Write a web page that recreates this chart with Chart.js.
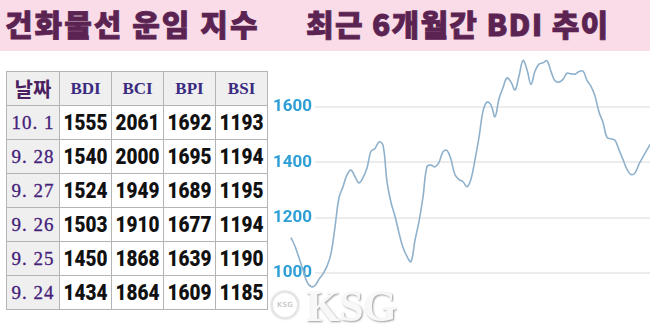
<!DOCTYPE html>
<html>
<head>
<meta charset="utf-8">
<script src="https://cdn.jsdelivr.net/npm/chart.js@4.4.1/dist/chart.umd.min.js"></script>
<style>
  body { margin: 0; width: 650px; height: 333px; overflow: hidden; background: #fff; position: relative; }
  .band { position: absolute; left: 0; top: 0; width: 650px; height: 51px; background: #fadce8; }
  .ttl { position: absolute; top: 3px; font-family: "Noto Sans CJK KR", sans-serif; font-weight: 900;
         font-size: 30px; color: #5a2352; white-space: nowrap; line-height: 40px; -webkit-text-stroke: 0.8px #5a2352; }
  table { position: absolute; left: 6px; top: 71px; border-collapse: collapse; table-layout: fixed; }
  td { border: 1px solid #b4b4b4; height: 33px; padding: 0; text-align: center; overflow: hidden; white-space: nowrap; }
  .hd td { background: #efefef; color: #3a2a80; font-family: "Liberation Serif", serif; font-weight: bold; font-size: 17px; }
  .hd td.kr { font-family: "Noto Sans CJK KR", sans-serif; font-size: 20px; color: #4a2060; }
  td.dt { background: #efefef; color: #44207a; font-family: "Liberation Serif", serif; font-size: 19px; letter-spacing: 1px;
          -webkit-text-stroke: 0.3px #44207a; }
  td.num span { display: inline-block; transform: scaleX(0.86); font-family: Roboto, sans-serif; font-weight: 900;
                font-size: 22px; color: #111; }
  #wrap { position: absolute; left: 265px; top: 50px; width: 385px; height: 251px; }
  .wm { position: absolute; left: 306px; top: 281px; font-family: "Liberation Serif", serif; font-weight: bold;
        font-size: 44px; color: #f8f8f8; text-shadow: 1px 1px 2px #9a9a9a; letter-spacing: -1px; }
  .logo { position: absolute; left: 271px; top: 291px; width: 24px; height: 24px; border-radius: 50%;
          border: 2px solid #e4e4e4; box-shadow: 0 0 2px #bbb; font: bold 7px "DejaVu Sans", sans-serif;
          color: #ccc; text-align: center; line-height: 24px; }
</style>
</head>
<body>
<div class="band"></div>
<div class="ttl" style="left:5px;letter-spacing:2px;">건화물선 운임 지수</div>
<div class="ttl" style="left:306px;letter-spacing:1.3px;">최근 6개월간 BDI 추이</div>

<table id="tbl"></table>

<div id="wrap"><canvas id="c"></canvas></div>
<div class="logo">KSG</div>
<div class="wm">KSG</div>

<script>
// table data
const tableHead = ["날짜", "BDI", "BCI", "BPI", "BSI"];
const dates = ["10. 1", "9. 28", "9. 27", "9. 26", "9. 25", "9. 24"];
const bdi = [1555, 1540, 1524, 1503, 1450, 1434];
const bci = [2061, 2000, 1949, 1910, 1868, 1864];
const bpi = [1692, 1695, 1689, 1677, 1639, 1609];
const bsi = [1193, 1194, 1195, 1194, 1190, 1185];

// 6 month BDI trend
const bdiTrend = [
  1128, 1097, 1055, 1010, 968, 951, 955, 978, 997, 1025,
  1070, 1167, 1272, 1312, 1355, 1372, 1348, 1326, 1345, 1380,
  1440, 1450, 1474, 1462, 1330, 1255, 1205, 1145, 1092, 1060,
  1041, 1119, 1186, 1275, 1385, 1390, 1384, 1400, 1438, 1443,
  1410, 1355, 1338, 1330, 1312, 1340, 1410, 1490, 1585, 1618,
  1608, 1565, 1630, 1670, 1705, 1690, 1662, 1712, 1768, 1735,
  1682, 1730, 1755, 1760, 1767, 1728, 1695, 1690, 1700, 1722,
  1720, 1719, 1728, 1730, 1696, 1675, 1640, 1582, 1544, 1490,
  1485, 1480, 1445, 1410, 1375, 1356, 1362, 1394, 1420, 1445,
  1470
];
const yTicks = [1000, 1200, 1400, 1600];

const tbl = document.getElementById("tbl");
const widths = [53, 51, 51, 51, 51];
let html = '<colgroup>' + widths.map((w) => `<col style="width:${w}px">`).join("") + '</colgroup>';
html += '<tr class="hd">' + tableHead.map((h, i) =>
  `<td class="${i === 0 ? 'kr' : ''}">${h}</td>`).join("") + "</tr>";
dates.forEach((d, r) => {
  html += `<tr><td class="dt">${d}</td>` +
    [bdi[r], bci[r], bpi[r], bsi[r]].map((v) => `<td class="num"><span>${v}</span></td>`).join("") + "</tr>";
});
tbl.innerHTML = html;

const labels = bdiTrend.map((_, i) => i);

new Chart(document.getElementById("c"), {
  type: "line",
  data: {
    labels,
    datasets: [{
      data: bdiTrend,
      borderColor: "#8fb1cc",
      borderWidth: 1.6,
      pointRadius: 0,
      tension: 0.4,
      clip: false,
    }],
  },
  options: {
    responsive: true,
    maintainAspectRatio: false,
    animation: false,
    events: [],
    layout: { autoPadding: false, padding: { top: 1.7, right: 0, bottom: 0.3, left: 0 } },
    plugins: { legend: { display: false }, tooltip: { enabled: false } },
    scales: {
      x: {
        type: "linear",
        display: false,
        bounds: "data",
        // left part of the line runs under the tick labels, so limits are set here
        afterDataLimits: (s) => { s.min = 6; s.max = 89.75; },
      },
      y: {
        bounds: "data",
        min: 900,
        max: 1800,
        afterBuildTicks: (s) => { s.ticks = yTicks.map((v) => ({ value: v })); },
        afterFit: (s) => { s.width = 50; s.paddingTop = 0; s.paddingBottom = 0; },
        border: { display: false },
        grid: { color: "#ececec", lineWidth: 2, drawTicks: false },
        ticks: {
          padding: 3,
          color: "#2d9fd6",
          font: { family: "Roboto", weight: "bold", size: 17 },
          callback: (v) => String(v),
        },
      },
    },
  },
});
</script>
</body>
</html>
